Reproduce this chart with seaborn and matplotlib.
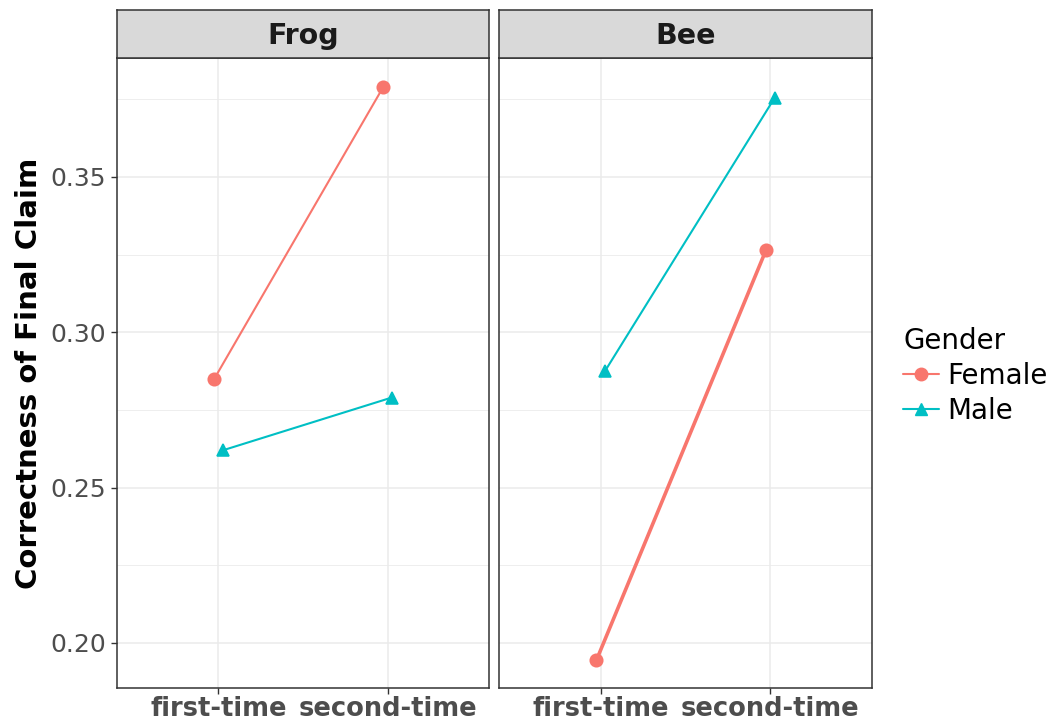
import matplotlib
matplotlib.use("Agg")
import matplotlib.pyplot as plt
from matplotlib.lines import Line2D
from matplotlib.ticker import MultipleLocator
import seaborn as sns
import pandas as pd

# Mean correctness of the final claim, by animal, attempt and gender
animals = ["Frog", "Bee"]
attempts = ["first-time", "second-time"]
genders = ["Female", "Male"]
frog_female = [0.285, 0.379]
frog_male = [0.262, 0.279]
bee_female = [0.1945, 0.3265]
bee_male = [0.2875, 0.3754]

values = {
    ("Frog", "Female"): frog_female,
    ("Frog", "Male"): frog_male,
    ("Bee", "Female"): bee_female,
    ("Bee", "Male"): bee_male,
}
rows = []
for (animal, gender), vals in values.items():
    for attempt, v in zip(attempts, vals):
        rows.append({"Animal": animal, "Attempt": attempt, "Gender": gender, "Correctness": v})
df = pd.DataFrame(rows)

palette = {"Female": "#F8766D", "Male": "#00BFC4"}
markers = {"Female": "o", "Male": "^"}

sns.set_theme(style="white")
plt.rcParams["font.family"] = ["DejaVu Sans"]

W, H = 1057, 726
fig = plt.figure(figsize=(W / 100, H / 100), dpi=100)
fig.patch.set_facecolor("white")


def px_axes(x0, y0, x1, y1):
    return fig.add_axes([x0 / W, 1 - y1 / H, (x1 - x0) / W, (y1 - y0) / H])


panels = {"Frog": (117, 489), "Bee": (499, 872)}
panel_top, panel_bottom = 58, 688
strip_top = 10
ylim = (0.1855, 0.3883)
thick = {("Bee", "Female"): 2.6}

for i, animal in enumerate(animals):
    x0, x1 = panels[animal]
    ax = px_axes(x0, panel_top, x1, panel_bottom)
    sub = df[df["Animal"] == animal]
    sns.pointplot(
        data=sub, x="Attempt", y="Correctness", hue="Gender",
        order=attempts, hue_order=genders, palette=palette,
        markers=[markers[g] for g in genders], linestyles=["-", "-"],
        dodge=0.05, errorbar=None, markersize=9, linewidth=1.5,
        legend=False, ax=ax, zorder=3,
    )
    # per-series line widths
    for line in ax.lines:
        col = matplotlib.colors.to_hex(line.get_color()).upper()
        g = "Female" if col == palette["Female"].upper() else "Male"
        if (animal, g) in thick:
            line.set_linewidth(thick[(animal, g)])
    ax.set_xlim(-0.6, 1.6)
    ax.set_ylim(*ylim)
    ax.yaxis.set_major_locator(MultipleLocator(0.05))
    ax.yaxis.set_minor_locator(MultipleLocator(0.025))
    ax.set_facecolor("white")
    ax.grid(True, which="major", color="#EBEBEB", linewidth=1.1, zorder=0)
    ax.grid(True, which="minor", axis="y", color="#EBEBEB", linewidth=0.6, zorder=0)
    ax.set_axisbelow(True)
    for s in ax.spines.values():
        s.set_color("#333333")
        s.set_linewidth(1.1)
        s.set_visible(True)
    ax.set_xlabel("")
    ax.set_ylabel("")
    ax.tick_params(axis="both", which="major", direction="out", length=4,
                   width=1.0, color="#333333", bottom=True, left=(i == 0))
    ax.tick_params(axis="both", which="minor", length=0)
    ax.tick_params(axis="x", labelsize=18.5, labelcolor="#4D4D4D", pad=2)
    ax.tick_params(axis="y", labelsize=18, labelcolor="#4D4D4D", pad=4)
    for lab in ax.get_xticklabels():
        lab.set_fontweight("bold")
    ax.set_yticks([0.20, 0.25, 0.30, 0.35])
    if i == 0:
        ax.set_yticklabels(["0.20", "0.25", "0.30", "0.35"])
        ax.set_ylabel("Correctness of Final Claim", fontsize=21,
                      fontweight="bold", color="black", labelpad=5)
    else:
        ax.set_yticklabels([])

    # facet strip
    sax = px_axes(x0, strip_top, x1, panel_top)
    sax.set_facecolor("#D9D9D9")
    sax.set_xticks([])
    sax.set_yticks([])
    for s in sax.spines.values():
        s.set_color("#333333")
        s.set_linewidth(1.1)
    sax.text(0.5, 0.45, animal, ha="center", va="center", fontsize=20.5,
             fontweight="bold", color="#1A1A1A", transform=sax.transAxes)

handles = [
    Line2D([], [], color=palette[g], marker=markers[g], markersize=9,
           linewidth=1.5, label=g)
    for g in genders
]
leg = fig.legend(handles=handles, title="Gender", loc="upper left",
                 bbox_to_anchor=(892 / W, 1 - 316 / H), frameon=False,
                 fontsize=20, title_fontsize=20, handlelength=1.3,
                 handletextpad=0.3, labelspacing=0.25, borderaxespad=0,
                 labelcolor="black")
leg.get_title().set_color("black")
leg._legend_box.align = "left"

fig.savefig("out.png", dpi=100, facecolor="white")
